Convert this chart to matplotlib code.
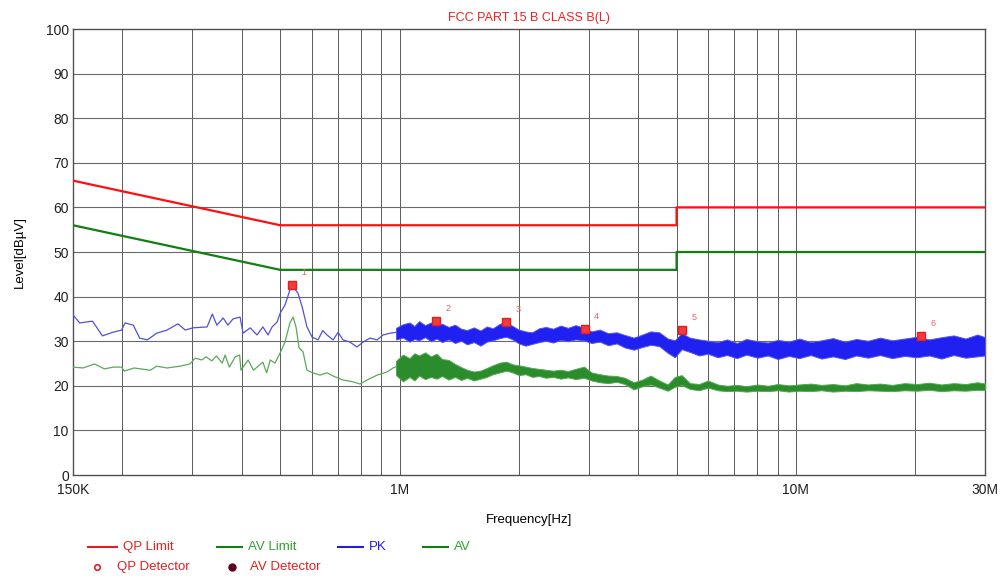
import numpy as np
import matplotlib
matplotlib.use("Agg")
import matplotlib.pyplot as plt
from matplotlib.lines import Line2D

plt.rcParams['font.family'] = ['Liberation Sans', 'DejaVu Sans']

# limit lines (MHz, dBuV)
qp_limit_f = [0.15, 0.5, 5.0, 5.0, 30.0]
qp_limit_v = [66, 56, 56, 60, 60]
av_limit_f = [0.15, 0.5, 5.0, 5.0, 30.0]
av_limit_v = [56, 46, 46, 50, 50]

# PK trace, low frequency part (thin line)
pk_line_f = [0.150, 0.156, 0.168, 0.178, 0.189, 0.199, 0.203, 0.213, 0.221, 0.231,
             0.244, 0.259, 0.276, 0.288, 0.301, 0.327, 0.337, 0.346, 0.359, 0.369,
             0.380, 0.396, 0.403, 0.420, 0.437, 0.452, 0.466, 0.477, 0.491, 0.500,
             0.514, 0.529, 0.539, 0.554, 0.568, 0.584, 0.602, 0.623, 0.640, 0.656,
             0.680, 0.700, 0.720, 0.750, 0.781, 0.809, 0.842, 0.878, 0.909, 0.946, 0.980]
pk_line_v = [35.9, 34.1, 34.5, 31.2, 32.0, 32.5, 34.1, 33.6, 30.7, 30.3,
             31.8, 32.5, 33.9, 32.5, 33.0, 33.2, 36.1, 33.6, 35.2, 33.6,
             35.0, 35.4, 31.8, 33.0, 31.4, 33.2, 31.4, 33.2, 34.3, 36.3,
             38.1, 41.5, 42.2, 40.8, 37.7, 33.2, 30.9, 30.3, 32.4, 31.4,
             30.3, 32.0, 30.3, 29.8, 28.7, 29.8, 30.7, 30.3, 31.4, 31.8, 32.0]

# PK trace, dense part (noise band low/high)
band_f = [0.98, 1.02, 1.06, 1.09, 1.12, 1.16, 1.20, 1.24, 1.28, 1.33,
          1.38, 1.43, 1.48, 1.54, 1.60, 1.66, 1.72, 1.79, 1.86, 1.93,
          2.00, 2.08, 2.16, 2.25, 2.34, 2.44, 2.55, 2.66, 2.78, 2.92,
          3.05, 3.20, 3.36, 3.53, 3.70, 3.90, 4.10, 4.30, 4.52, 4.75,
          4.95, 5.15, 5.40, 5.70, 6.00, 6.35, 6.70, 7.10, 7.50, 8.00,
          8.50, 9.00, 9.60, 10.2, 10.9, 11.6, 12.4, 13.3, 14.2, 15.2,
          16.3, 17.5, 18.8, 20.2, 21.7, 23.3, 25.0, 26.8, 28.7, 30.0]
pk_lo = [30.4, 30.8, 29.9, 30.5, 30.2, 30.9, 30.0, 30.6, 29.8, 30.4,
         29.6, 30.1, 29.3, 29.8, 29.0, 29.9, 30.2, 30.7, 31.0, 30.4,
         29.5, 29.0, 29.4, 29.8, 30.1, 29.7, 30.3, 30.0, 30.4, 30.2,
         29.6, 29.9, 29.1, 29.5, 28.6, 28.1, 28.7, 29.2, 28.9, 27.4,
         26.4, 28.2, 27.6, 26.8, 27.2, 26.4, 26.9, 26.2, 27.0, 26.3,
         26.8, 26.0, 26.7, 26.2, 26.9, 26.1, 26.6, 26.0, 26.8, 26.3,
         26.9, 26.2, 26.7, 26.4, 26.8, 26.1, 26.9, 26.3, 26.6, 26.8]
pk_hi = [33.0, 33.8, 34.2, 33.4, 34.5, 33.6, 34.2, 33.5, 33.9, 33.2,
         33.7, 32.8, 32.5, 33.1, 32.4, 33.3, 32.9, 33.9, 34.3, 33.4,
         32.6, 32.2, 32.0, 32.9, 33.2, 32.8, 33.5, 33.0, 33.6, 33.0,
         32.2, 32.6, 31.8, 32.0, 31.4, 30.8, 31.5, 32.2, 32.0, 30.6,
         30.2, 31.8, 30.8, 30.4, 30.1, 29.8, 30.4, 29.6, 30.5, 30.0,
         29.7, 30.3, 29.9, 30.6, 29.8, 30.2, 30.7, 29.9, 30.5, 30.1,
         30.8, 30.2, 30.6, 31.0, 30.4, 30.9, 31.3, 30.6, 31.5, 30.9]

# AV trace, low frequency part
av_line_f = [0.150, 0.159, 0.170, 0.180, 0.190, 0.199, 0.202, 0.214, 0.235, 0.244,
             0.259, 0.279, 0.296, 0.305, 0.317, 0.325, 0.336, 0.345, 0.357, 0.363,
             0.372, 0.385, 0.395, 0.398, 0.415, 0.428, 0.452, 0.462, 0.472, 0.485,
             0.500, 0.514, 0.529, 0.539, 0.548, 0.558, 0.571, 0.584, 0.605, 0.630,
             0.656, 0.688, 0.720, 0.763, 0.795, 0.828, 0.878, 0.930, 0.963, 0.980]
av_line_v = [24.2, 24.0, 24.9, 23.8, 24.2, 24.2, 23.3, 24.0, 23.5, 24.4,
             24.0, 24.4, 24.9, 26.2, 25.8, 26.5, 25.6, 26.7, 25.1, 26.9,
             24.2, 26.5, 26.9, 23.5, 25.8, 23.5, 25.3, 22.9, 25.8, 25.1,
             27.4, 29.8, 34.1, 35.4, 33.2, 28.5, 27.6, 23.5, 22.9, 22.4,
             22.9, 22.0, 21.3, 20.9, 20.4, 21.3, 22.4, 23.1, 24.0, 24.3]

av_lo = [22.4, 21.0, 22.0, 21.2, 22.3, 21.5, 22.0, 21.6, 22.2, 21.4,
         22.0, 21.3, 21.8, 21.2, 21.6, 22.0, 22.6, 23.0, 23.4, 23.0,
         22.4, 22.6, 22.0, 22.2, 21.8, 22.0, 21.6, 21.9, 21.5, 21.8,
         21.2, 20.8, 20.6, 20.9, 20.4, 19.2, 19.9, 20.3, 19.6, 18.9,
         19.8, 20.2, 19.3, 19.0, 19.6, 19.0, 18.8, 18.9, 18.7, 18.9,
         18.8, 19.0, 18.7, 18.9, 18.8, 19.0, 18.7, 18.9, 18.8, 19.0,
         18.9, 18.8, 19.0, 18.9, 19.1, 18.8, 19.0, 18.9, 19.1, 19.0]
av_hi = [25.6, 27.0, 26.2, 27.3, 26.8, 27.5, 26.6, 27.2, 26.0, 25.8,
         24.9, 24.2, 23.6, 23.2, 23.4, 24.0, 24.6, 25.2, 25.4, 24.8,
         24.6, 24.3, 24.0, 23.8, 23.6, 23.4, 23.6, 23.3, 23.8, 24.3,
         23.0, 22.6, 22.3, 22.2, 21.8, 20.8, 21.4, 22.3, 21.2, 20.3,
         22.0, 22.4, 20.6, 20.4, 21.2, 20.3, 20.0, 20.2, 19.9, 20.3,
         20.0, 20.4, 20.1, 20.3, 20.5, 20.2, 20.4, 20.1, 20.6, 20.3,
         20.5, 20.2, 20.6, 20.4, 20.7, 20.3, 20.6, 20.4, 20.8, 20.5]

# detector marks
mark_f = [0.535, 1.234, 1.857, 2.93, 5.15, 20.7]
mark_v = [42.6, 34.6, 34.4, 32.7, 32.5, 31.2]
mark_lbl = ['1', '2', '3', '4', '5', '6']

fig = plt.figure(figsize=(10.01, 5.80), dpi=100)
ax = fig.add_axes([0.0729, 0.181, 0.9111, 0.769])

ax.set_xscale('log')
ax.set_xlim(0.15, 30)
ax.set_ylim(0, 100)

# grid
for f in [0.2, 0.3, 0.4, 0.5, 0.6, 0.7, 0.8, 0.9, 1, 2, 3, 4, 5, 6, 7, 8, 9, 10, 20]:
    ax.axvline(f, color='#5a5a5a', lw=0.7, zorder=1)
for v in range(10, 100, 10):
    ax.axhline(v, color='#6a6a6a', lw=0.8, zorder=1)

ax.plot(qp_limit_f, qp_limit_v, color='#ff1010', lw=1.6, zorder=3)
ax.plot(av_limit_f, av_limit_v, color='#108010', lw=1.6, zorder=3)

ax.plot(av_line_f, av_line_v, color='#5aa85a', lw=0.9, zorder=3)
ax.fill_between(band_f, av_lo, av_hi, color='#2a8c2a', lw=0.7, edgecolor='#55a855', zorder=3)
ax.plot(pk_line_f, pk_line_v, color='#5050e0', lw=0.9, zorder=4)
ax.fill_between(band_f, pk_lo, pk_hi, color='#2020f0', lw=0.7, edgecolor='#5555f0', zorder=4)

ax.plot(mark_f, mark_v, 's', color='#f03c3c', ms=6, mec='#e02020', zorder=5)
for f, v, t in zip(mark_f, mark_v, mark_lbl):
    ax.annotate(t, (f, v), xytext=(7, 7), textcoords='offset points',
                color='#f06060', fontsize=6.5, zorder=6)

ax.set_xticks([0.15, 1, 10, 30])
ax.set_xticklabels(['150K', '1M', '10M', '30M'])
ax.xaxis.set_minor_locator(matplotlib.ticker.NullLocator())
ax.set_yticks(range(0, 101, 10))
ax.tick_params(axis='both', length=0, labelsize=10, colors='#202020')
ax.tick_params(axis='x', pad=6)
ax.tick_params(axis='y', pad=3)
for s in ax.spines.values():
    s.set_color('#505050')
    s.set_linewidth(1.0)

ax.set_title('FCC PART 15 B CLASS B(L)', color='#f02020', fontsize=9, pad=6)
ax.set_xlabel('Frequency[Hz]', fontsize=9.5, labelpad=12)
ax.set_ylabel('Level[dBµV]', fontsize=9.5, labelpad=14)

# legend, drawn in figure coordinates
def fx(px):
    return px / 1001.0

def fy(py):
    return 1 - py / 580.0

row1 = [(88, 117, '#e02020', 'QP Limit', '#e02020'),
        (217, 242, '#108010', 'AV Limit', '#30a030'),
        (338, 363, '#2020d0', 'PK', '#2020e0'),
        (423, 448, '#108010', 'AV', '#30a030')]
for x0, x1, lc, txt, tc in row1:
    fig.add_artist(Line2D([fx(x0), fx(x1)], [fy(547), fy(547)], color=lc, lw=1.5))
    fig.text(fx(x1 + 6), fy(547), txt, color=tc, fontsize=9.5, va='center')

fig.add_artist(Line2D([fx(97)], [fy(567)], marker='o', ms=4, mfc='none', mec='#e02020', mew=1.2, lw=0))
fig.text(fx(117), fy(567), 'QP Detector', color='#e02020', fontsize=9.5, va='center')
fig.add_artist(Line2D([fx(232)], [fy(567)], marker='o', ms=5, color='#600020', lw=0))
fig.text(fx(250), fy(567), 'AV Detector', color='#e02020', fontsize=9.5, va='center')

fig.savefig('out.png', dpi=100)
